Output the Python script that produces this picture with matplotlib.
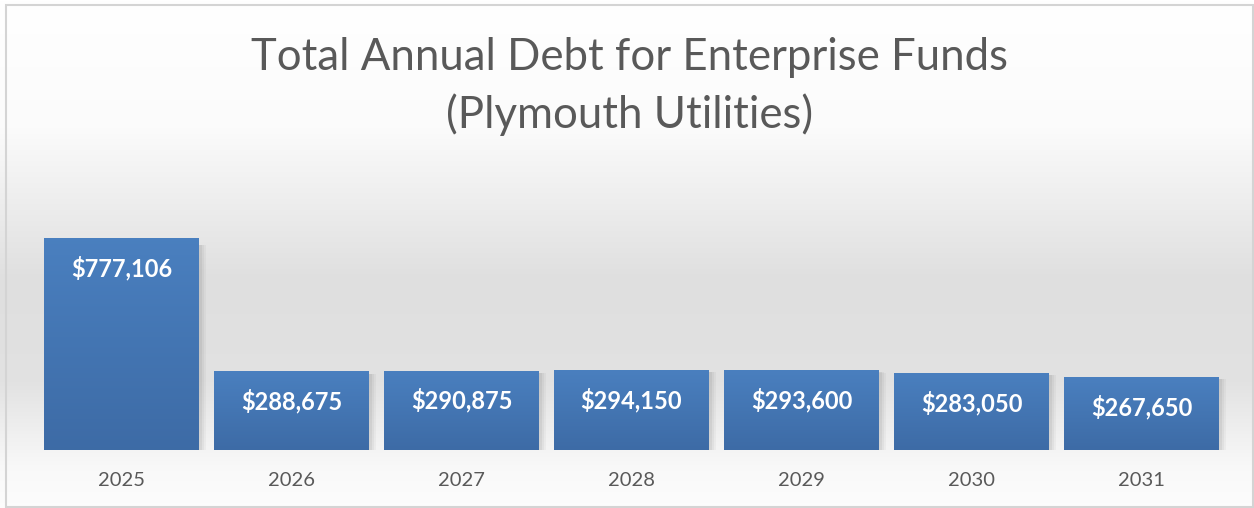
import matplotlib.pyplot as plt
import numpy as np
from matplotlib.patches import Rectangle

years = ["2025", "2026", "2027", "2028", "2029", "2030", "2031"]
debt = [777106, 288675, 290875, 294150, 293600, 283050, 267650]

title_1 = "Total Annual Debt for Enterprise Funds"
title_2 = "(Plymouth Utilities)"

W, H = 1254, 508
fig = plt.figure(figsize=(W / 100, H / 100), dpi=100)

# background: white at the top, grey band in the middle, fading out at the bottom
bg = fig.add_axes([0, 0, 1, 1], zorder=0)
bg.axis("off")
stops_y = [0.0, 0.25, 0.55, 0.75, 0.92, 1.0]
stops_v = [1.0, 0.985, 0.875, 0.885, 0.975, 0.99]
yy = np.linspace(0, 1, 400)
shade = np.interp(yy, stops_y, stops_v)
grad = np.repeat(shade[:, None], 2, axis=1)
bg.imshow(np.dstack([grad, grad, grad]), extent=(0, 1, 1, 0), aspect="auto")
bg.set_xlim(0, 1)
bg.set_ylim(1, 0)
bg.add_patch(Rectangle((6 / W, 5 / H), 1 - 7 / W, 1 - 6 / H, fill=False,
                       edgecolor="#d4d4d4", lw=1.5))

ax = fig.add_axes([36.5 / W, 58 / H, 1190 / W, 270 / H], zorder=1)
ax.patch.set_alpha(0)
x = np.arange(len(years))
bars = ax.bar(x, debt, width=0.91, color="#4371ae", zorder=3)

# bar gradient (lighter top, darker bottom) and soft shadow
blue = np.array([[0.29, 0.50, 0.75], [0.24, 0.42, 0.65]])
g = np.linspace(0, 1, 100)[:, None]
bar_img = blue[0] * (1 - g) + blue[1] * g
bar_img = np.repeat(bar_img[:, None, :], 2, axis=1)
for b in bars:
    x0, w, h = b.get_x(), b.get_width(), b.get_height()
    im = ax.imshow(bar_img, extent=(x0, x0 + w, 0, h), aspect="auto", zorder=4)
    im.set_clip_path(b)
    for k, a in [(0.04, 0.03), (0.028, 0.04), (0.016, 0.05)]:
        ax.add_patch(Rectangle((x0 + k, -k * 20000), w, h * 0.97, color="black",
                               alpha=a, lw=0, zorder=2))

for xi, v in zip(x, debt):
    ax.annotate(f"${v:,.0f}", xy=(xi, v), xytext=(0, -21.5), textcoords="offset points",
                ha="center", va="center", color="white", fontsize=17,
                fontweight="bold", family="Lato", zorder=5)

ax.set_xlim(-0.5, len(years) - 0.5)
ax.set_ylim(0, 990000)
ax.set_xticks(x, years)
ax.tick_params(axis="x", length=0, pad=16, labelsize=14.5, labelcolor="#595959")
for lab in ax.get_xticklabels():
    lab.set_family("Lato")
ax.set_yticks([])
for s in ax.spines.values():
    s.set_visible(False)

fig.text(0.502, 1 - 58 / H, title_1, ha="center", va="center", fontsize=31.5,
         color="#595959", family="Lato")
fig.text(0.502, 1 - 115 / H, title_2, ha="center", va="center", fontsize=31.5,
         color="#595959", family="Lato")

fig.savefig("out.png", dpi=100)
